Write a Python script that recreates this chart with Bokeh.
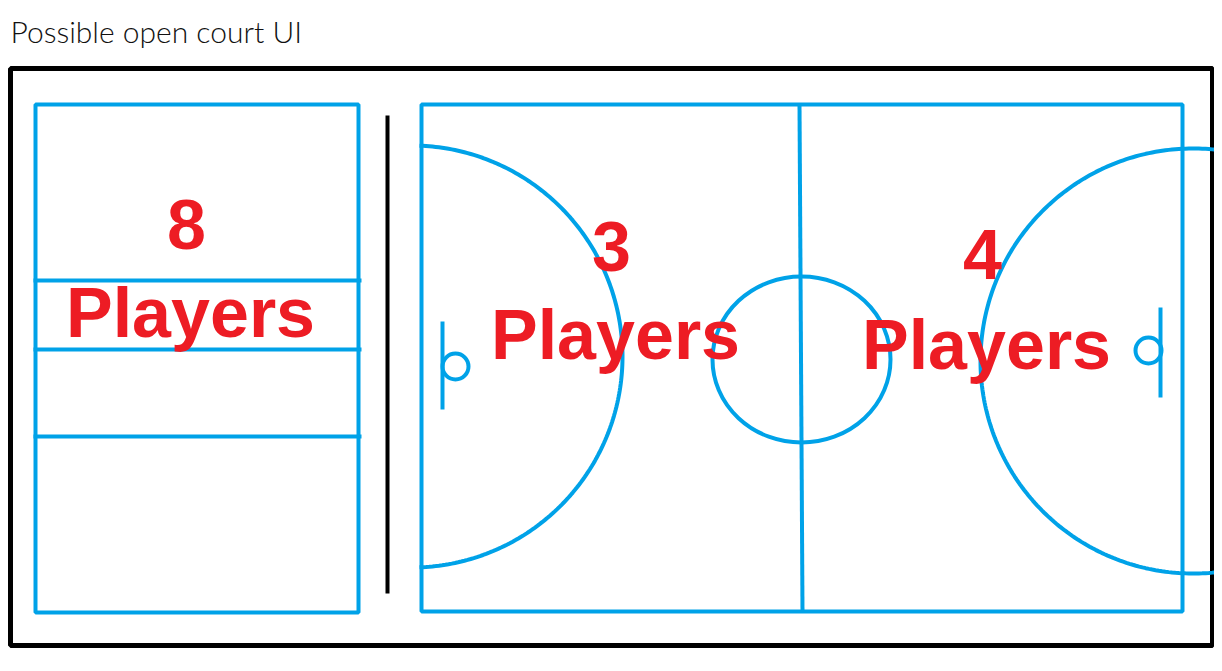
import numpy as np
from bokeh.plotting import figure
from bokeh.models import Range1d
from bokeh.core.properties import value
from bokeh.embed import file_html
from bokeh.resources import INLINE

BLUE = "#00a2e8"
RED = "#ed1c24"

# player counts per area and where they sit (page pixels)
court_counts = ["8", "3", "4"]
count_x = [186, 611, 982]
count_y = [250, 272, 280]
word_x = [190, 615, 986]
word_y = [338, 360, 370]

# left (queue) court
queue_box = dict(left=35, right=358, top=104, bottom=612)
queue_rows = [280, 349, 436]

# right (playing) court
court_box = dict(left=421, right=1182, top=104, bottom=611)
mid_line = ([799, 802], [104, 611])
centre = (801, 359, 178, 166)
key_left = (411, 356, 211)
key_right = (1192.5, 360.5, 212.5)
hoops = dict(x=[455, 1148], y=[366, 350])
boards = dict(x=[442, 1160], y0=[321, 307], y1=[409, 397])

W, H = 1214, 663
p = figure(width=W, height=H, output_backend="svg", toolbar_location=None,
           x_range=Range1d(0, W), y_range=Range1d(H, 0),
           min_border=0, outline_line_color=None)
p.axis.visible = False
p.grid.visible = False

p.text(x=[10], y=[42], text=["Possible open court UI"], text_align="left",
       text_baseline="alphabetic", text_font=value("'Lato Light', 'Open Sans'"),
       text_font_size="30px", text_color="#111111", y_offset=-12)

# outer frame + divider
p.quad(left=10, right=1212, top=68, bottom=645, fill_color=None,
       line_color="black", line_width=5)
p.segment(x0=[387], y0=[115], x1=[387], y1=[593], line_color="black", line_width=4)

# queue court
p.quad(fill_color=None, line_color=BLUE, line_width=4, **queue_box)
p.segment(x0=[33] * 3, y0=queue_rows, x1=[361] * 3, y1=queue_rows,
          line_color=BLUE, line_width=4)

# playing court
p.quad(fill_color=None, line_color=BLUE, line_width=4, **court_box)
p.line(x=mid_line[0], y=mid_line[1], line_color=BLUE, line_width=4)
p.ellipse(x=[centre[0]], y=[centre[1]], width=centre[2], height=centre[3],
          fill_color=None, line_color=BLUE, line_width=4)

cx, cy, r = key_left
lim = np.arccos((court_box["left"] - 2 - cx) / r)
t = np.linspace(-lim, lim, 200)
p.line(cx + r * np.cos(t), cy + r * np.sin(t), line_color=BLUE, line_width=4)

cx, cy, r = key_right
t = np.linspace(0, 2 * np.pi, 400)
p.line(cx + r * np.cos(t), cy + r * np.sin(t), line_color=BLUE, line_width=4)

p.segment(x0=boards["x"], y0=boards["y0"], x1=boards["x"], y1=boards["y1"],
          line_color=BLUE, line_width=4)
p.scatter(x=hoops["x"], y=hoops["y"], size=26, fill_color=None,
          line_color=BLUE, line_width=4)

# labels
p.text(x=count_x, y=count_y, text=court_counts, text_align="center",
       text_baseline="alphabetic", text_font=value("Liberation Sans"),
       text_font_style="bold", text_font_size="70px", text_color=RED,
       y_offset=-26)
p.text(x=word_x, y=word_y, text=["Players"] * 3, text_align="center",
       text_baseline="alphabetic", text_font=value("Liberation Sans"),
       text_font_style="bold", text_font_size="70px", text_color=RED,
       y_offset=-26)

open("out.html", "w").write(file_html(p, INLINE))
